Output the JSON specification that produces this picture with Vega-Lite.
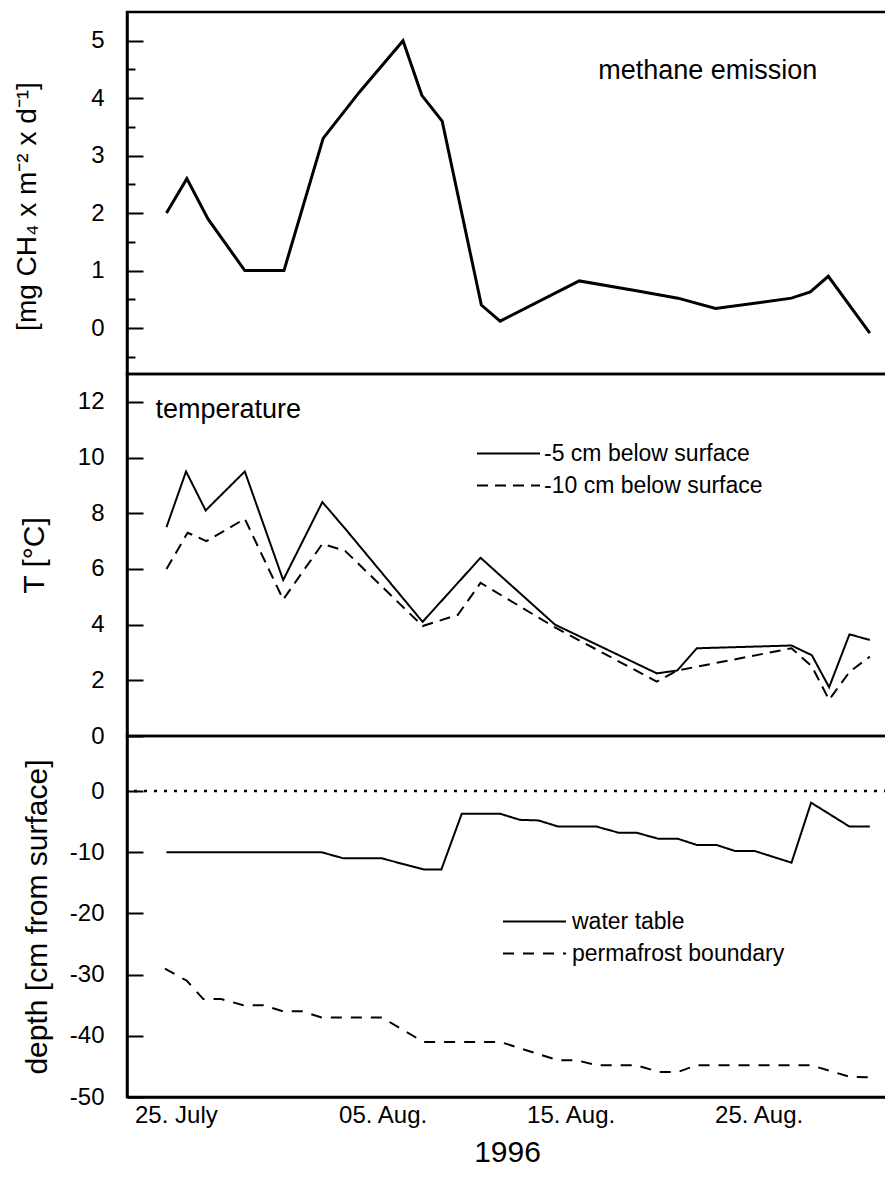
{
  "$schema": "https://vega.github.io/schema/vega-lite/v6.json",
  "background": "white",
  "padding": {"left": 11, "top": 10, "right": 0, "bottom": 6},
  "bounds": "flush",
  "spacing": 0,
  "datasets": {
    "methane": [
      {"date": "1996-07-24T12:00", "flux": 2.0},
      {"date": "1996-07-25T14:00", "flux": 2.6},
      {"date": "1996-07-26T17:00", "flux": 1.9},
      {"date": "1996-07-28T16:00", "flux": 1.0},
      {"date": "1996-07-30T18:00", "flux": 1.0},
      {"date": "1996-08-01T20:00", "flux": 3.3},
      {"date": "1996-08-03T18:00", "flux": 4.1},
      {"date": "1996-08-06T02:00", "flux": 5.0},
      {"date": "1996-08-07T02:00", "flux": 4.05},
      {"date": "1996-08-08T04:00", "flux": 3.6},
      {"date": "1996-08-10T06:00", "flux": 0.4},
      {"date": "1996-08-11T06:00", "flux": 0.12},
      {"date": "1996-08-15T11:00", "flux": 0.82},
      {"date": "1996-08-18T12:00", "flux": 0.65},
      {"date": "1996-08-20T17:00", "flux": 0.52},
      {"date": "1996-08-22T17:00", "flux": 0.34},
      {"date": "1996-08-26T18:00", "flux": 0.52},
      {"date": "1996-08-27T18:00", "flux": 0.63},
      {"date": "1996-08-28T17:00", "flux": 0.9},
      {"date": "1996-08-30T22:00", "flux": -0.09}
    ],
    "temperature": [
      {"date": "1996-07-24T12:00", "probe": "-5 cm below surface", "temp": 7.5},
      {"date": "1996-07-25T13:00", "probe": "-5 cm below surface", "temp": 9.5},
      {"date": "1996-07-26T14:00", "probe": "-5 cm below surface", "temp": 8.1},
      {"date": "1996-07-28T16:00", "probe": "-5 cm below surface", "temp": 9.5},
      {"date": "1996-07-30T17:00", "probe": "-5 cm below surface", "temp": 5.6},
      {"date": "1996-08-01T19:00", "probe": "-5 cm below surface", "temp": 8.4},
      {"date": "1996-08-03T00:00", "probe": "-5 cm below surface", "temp": 7.45},
      {"date": "1996-08-07T03:00", "probe": "-5 cm below surface", "temp": 4.1},
      {"date": "1996-08-10T05:00", "probe": "-5 cm below surface", "temp": 6.4},
      {"date": "1996-08-14T04:00", "probe": "-5 cm below surface", "temp": 4.0},
      {"date": "1996-08-19T14:00", "probe": "-5 cm below surface", "temp": 2.25},
      {"date": "1996-08-20T16:00", "probe": "-5 cm below surface", "temp": 2.35},
      {"date": "1996-08-21T17:00", "probe": "-5 cm below surface", "temp": 3.15},
      {"date": "1996-08-26T18:00", "probe": "-5 cm below surface", "temp": 3.25},
      {"date": "1996-08-27T20:00", "probe": "-5 cm below surface", "temp": 2.9},
      {"date": "1996-08-28T18:00", "probe": "-5 cm below surface", "temp": 1.75},
      {"date": "1996-08-29T20:00", "probe": "-5 cm below surface", "temp": 3.65},
      {"date": "1996-08-30T22:00", "probe": "-5 cm below surface", "temp": 3.45},
      {"date": "1996-07-24T12:00", "probe": "-10 cm below surface", "temp": 6.0},
      {"date": "1996-07-25T15:00", "probe": "-10 cm below surface", "temp": 7.3},
      {"date": "1996-07-26T15:00", "probe": "-10 cm below surface", "temp": 7.0},
      {"date": "1996-07-28T16:00", "probe": "-10 cm below surface", "temp": 7.8},
      {"date": "1996-07-30T17:00", "probe": "-10 cm below surface", "temp": 4.9},
      {"date": "1996-08-01T19:00", "probe": "-10 cm below surface", "temp": 6.9},
      {"date": "1996-08-03T00:00", "probe": "-10 cm below surface", "temp": 6.65},
      {"date": "1996-08-07T03:00", "probe": "-10 cm below surface", "temp": 3.95},
      {"date": "1996-08-09T00:00", "probe": "-10 cm below surface", "temp": 4.35},
      {"date": "1996-08-10T05:00", "probe": "-10 cm below surface", "temp": 5.5},
      {"date": "1996-08-14T04:00", "probe": "-10 cm below surface", "temp": 3.9},
      {"date": "1996-08-19T14:00", "probe": "-10 cm below surface", "temp": 1.95},
      {"date": "1996-08-20T16:00", "probe": "-10 cm below surface", "temp": 2.35},
      {"date": "1996-08-26T18:00", "probe": "-10 cm below surface", "temp": 3.15},
      {"date": "1996-08-27T20:00", "probe": "-10 cm below surface", "temp": 2.5},
      {"date": "1996-08-28T18:00", "probe": "-10 cm below surface", "temp": 1.3},
      {"date": "1996-08-29T20:00", "probe": "-10 cm below surface", "temp": 2.3},
      {"date": "1996-08-30T22:00", "probe": "-10 cm below surface", "temp": 2.85}
    ],
    "depth": [
      {"date": "1996-07-24T12:00", "series": "water table", "cm": -10},
      {"date": "1996-08-01T18:00", "series": "water table", "cm": -10},
      {"date": "1996-08-02T22:00", "series": "water table", "cm": -11},
      {"date": "1996-08-04T23:00", "series": "water table", "cm": -11},
      {"date": "1996-08-07T04:00", "series": "water table", "cm": -12.8},
      {"date": "1996-08-08T03:00", "series": "water table", "cm": -12.8},
      {"date": "1996-08-09T05:00", "series": "water table", "cm": -3.7},
      {"date": "1996-08-11T06:00", "series": "water table", "cm": -3.7},
      {"date": "1996-08-12T07:00", "series": "water table", "cm": -4.7},
      {"date": "1996-08-13T07:00", "series": "water table", "cm": -4.8},
      {"date": "1996-08-14T08:00", "series": "water table", "cm": -5.8},
      {"date": "1996-08-16T09:00", "series": "water table", "cm": -5.8},
      {"date": "1996-08-17T13:00", "series": "water table", "cm": -6.8},
      {"date": "1996-08-18T12:00", "series": "water table", "cm": -6.8},
      {"date": "1996-08-19T16:00", "series": "water table", "cm": -7.8},
      {"date": "1996-08-20T17:00", "series": "water table", "cm": -7.8},
      {"date": "1996-08-21T17:00", "series": "water table", "cm": -8.8},
      {"date": "1996-08-22T18:00", "series": "water table", "cm": -8.8},
      {"date": "1996-08-23T18:00", "series": "water table", "cm": -9.8},
      {"date": "1996-08-24T19:00", "series": "water table", "cm": -9.8},
      {"date": "1996-08-26T18:00", "series": "water table", "cm": -11.7},
      {"date": "1996-08-27T19:00", "series": "water table", "cm": -1.9},
      {"date": "1996-08-29T20:00", "series": "water table", "cm": -5.8},
      {"date": "1996-08-30T22:00", "series": "water table", "cm": -5.8},
      {"date": "1996-07-24T10:00", "series": "permafrost boundary", "cm": -29},
      {"date": "1996-07-25T14:00", "series": "permafrost boundary", "cm": -31},
      {"date": "1996-07-26T11:00", "series": "permafrost boundary", "cm": -34},
      {"date": "1996-07-27T10:00", "series": "permafrost boundary", "cm": -34},
      {"date": "1996-07-28T14:00", "series": "permafrost boundary", "cm": -35},
      {"date": "1996-07-29T16:00", "series": "permafrost boundary", "cm": -35},
      {"date": "1996-07-30T17:00", "series": "permafrost boundary", "cm": -36},
      {"date": "1996-07-31T17:00", "series": "permafrost boundary", "cm": -36},
      {"date": "1996-08-01T18:00", "series": "permafrost boundary", "cm": -37},
      {"date": "1996-08-04T23:00", "series": "permafrost boundary", "cm": -37},
      {"date": "1996-08-07T04:00", "series": "permafrost boundary", "cm": -41},
      {"date": "1996-08-11T06:00", "series": "permafrost boundary", "cm": -41},
      {"date": "1996-08-14T08:00", "series": "permafrost boundary", "cm": -44},
      {"date": "1996-08-15T08:00", "series": "permafrost boundary", "cm": -44},
      {"date": "1996-08-16T09:00", "series": "permafrost boundary", "cm": -44.8},
      {"date": "1996-08-18T12:00", "series": "permafrost boundary", "cm": -44.8},
      {"date": "1996-08-19T16:00", "series": "permafrost boundary", "cm": -45.9},
      {"date": "1996-08-20T17:00", "series": "permafrost boundary", "cm": -45.9},
      {"date": "1996-08-21T17:00", "series": "permafrost boundary", "cm": -44.8},
      {"date": "1996-08-27T19:00", "series": "permafrost boundary", "cm": -44.8},
      {"date": "1996-08-29T20:00", "series": "permafrost boundary", "cm": -46.7},
      {"date": "1996-08-30T22:00", "series": "permafrost boundary", "cm": -46.8}
    ]
  },
  "vconcat": [
    {
      "width": 760,
      "height": 362,
      "resolve": {"axis": {"y": "independent"}},
      "layer": [
        {
          "data": {"name": "methane"},
          "mark": {"type": "line", "color": "black", "strokeWidth": 3},
          "encoding": {
            "x": {
              "field": "date", "type": "temporal",
              "scale": {"domain": [{"year": 1996, "month": 7, "date": 22, "hours": 9, "minutes": 36}, {"year": 1996, "month": 8, "date": 31, "hours": 19, "minutes": 55}]},
              "axis": null
            },
            "y": {
              "field": "flux", "type": "quantitative",
              "scale": {"domain": [-0.8, 5.5], "nice": false, "zero": false},
              "axis": {
                "orient": "left",
                "values": [0, 1, 2, 3, 4, 5],
                "tickSize": -16,
                "labelPadding": 39,
                "title": "[mg CH₄ x m⁻² x d⁻¹]",
                "titleFontSize": 28,
                "titleX": -100,
                "titleY": 194,
                "titleBaseline": "middle"
              }
            }
          }
        },
        {
          "data": {"values": [{}]},
          "mark": {"type": "text", "fontSize": 27, "align": "center", "baseline": "middle", "color": "black"},
          "encoding": {
            "x": {"datum": {"year": 1996, "month": 8, "date": 22, "hours": 7}, "type": "temporal"},
            "y": {
              "datum": 4.47,
              "axis": {
                "orient": "left",
                "values": [-0.5, 0.5, 1.5, 2.5, 3.5, 4.5],
                "tickSize": -8,
                "labels": false,
                "domain": false,
                "title": null
              }
            },
            "text": {"value": "methane emission"}
          }
        }
      ]
    },
    {
      "width": 760,
      "height": 362,
      "layer": [
        {
          "data": {"name": "temperature"},
          "mark": {"type": "line", "color": "black", "strokeWidth": 2},
          "encoding": {
            "x": {
              "field": "date", "type": "temporal",
              "scale": {"domain": [{"year": 1996, "month": 7, "date": 22, "hours": 9, "minutes": 36}, {"year": 1996, "month": 8, "date": 31, "hours": 19, "minutes": 55}]},
              "axis": null
            },
            "y": {
              "field": "temp", "type": "quantitative",
              "scale": {"domain": [0, 13], "nice": false},
              "axis": {
                "values": [0, 1, 2, 3, 4, 5, 6, 7, 8, 9, 10, 11, 12],
                "tickSize": {"condition": {"test": "datum.value % 2 === 0", "value": -16}, "value": -8},
                "labelExpr": "datum.value % 2 === 0 ? datum.label : ''",
                "labelPadding": 39,
                "title": "T [°C]",
                "titleX": -93,
                "titleBaseline": "middle"
              }
            },
            "strokeDash": {
              "field": "probe", "type": "nominal",
              "scale": {"domain": ["-5 cm below surface", "-10 cm below surface"], "range": [[1, 0], [11, 7]]},
              "legend": {
                "orient": "none", "legendX": 349, "legendY": 68,
                "title": null, "symbolType": "M-1,0H5", "symbolSize": 441,
                "symbolStrokeWidth": 2, "symbolStrokeColor": "black",
                "labelFontSize": 23, "labelOffset": 45, "rowPadding": 8, "padding": 0, "labelLimit": 400
              }
            }
          }
        },
        {
          "data": {"values": [{}]},
          "mark": {"type": "text", "fontSize": 27, "align": "left", "baseline": "middle", "color": "black"},
          "encoding": {
            "x": {"datum": {"year": 1996, "month": 7, "date": 23, "hours": 22}, "type": "temporal"},
            "y": {"datum": 11.7},
            "text": {"value": "temperature"}
          }
        }
      ]
    },
    {
      "width": 760,
      "height": 361,
      "layer": [
        {
          "data": {"values": [{}]},
          "mark": {"type": "rule", "color": "black", "strokeWidth": 2.5, "strokeDash": [3, 7]},
          "encoding": {"y": {"datum": 0}}
        },
        {
          "data": {"name": "depth"},
          "mark": {"type": "line", "color": "black", "strokeWidth": 2},
          "encoding": {
            "x": {
              "field": "date", "type": "temporal",
              "scale": {"domain": [{"year": 1996, "month": 7, "date": 22, "hours": 9, "minutes": 36}, {"year": 1996, "month": 8, "date": 31, "hours": 19, "minutes": 55}]},
              "axis": {
                "values": [{"year": 1996, "month": 7, "date": 25}, {"year": 1996, "month": 8, "date": 5}, {"year": 1996, "month": 8, "date": 15}, {"year": 1996, "month": 8, "date": 25}],
                "labelExpr": "timeFormat(datum.value, '%d') + (month(datum.value) == 6 ? '. July' : '. Aug.')",
                "ticks": false,
                "labelPadding": 6,
                "labelOverlap": false,
                "title": "1996",
                "titlePadding": 10
              }
            },
            "y": {
              "field": "cm", "type": "quantitative",
              "scale": {"domain": [-50, 9], "nice": false, "zero": false},
              "axis": {
                "values": [-50, -45, -40, -35, -30, -25, -20, -15, -10, -5, 0, 5],
                "tickSize": {"condition": {"test": "datum.value % 10 === 0", "value": -16}, "value": -8},
                "labelExpr": "datum.value % 10 === 0 ? replace(datum.label, '−', '-') : ''",
                "labelPadding": 39,
                "title": "depth [cm from surface]",
                "titleX": -90,
                "titleBaseline": "middle"
              }
            },
            "strokeDash": {
              "field": "series", "type": "nominal",
              "scale": {"domain": ["water table", "permafrost boundary"], "range": [[1, 0], [11, 9]]},
              "legend": {
                "orient": "none", "legendX": 375, "legendY": 174,
                "title": null, "symbolType": "M-1,0H5", "symbolSize": 441,
                "symbolStrokeWidth": 2, "symbolStrokeColor": "black",
                "labelFontSize": 23, "labelOffset": 47, "rowPadding": 8, "padding": 0, "labelLimit": 400
              }
            }
          }
        }
      ]
    }
  ],
  "resolve": {"scale": {"strokeDash": "independent", "x": "independent", "y": "independent"}, "legend": {"strokeDash": "independent"}},
  "config": {
    "font": "Liberation Sans",
    "view": {"stroke": "black", "strokeWidth": 2.5},
    "axis": {
      "grid": false,
      "domainColor": "black", "domainWidth": 2.5,
      "tickColor": "black", "tickWidth": 2,
      "labelColor": "black", "labelFontSize": 24, "labelOverlap": false,
      "titleColor": "black", "titleFontWeight": "normal", "titleFontSize": 30
    },
    "legend": {"labelColor": "black"}
  }
}
